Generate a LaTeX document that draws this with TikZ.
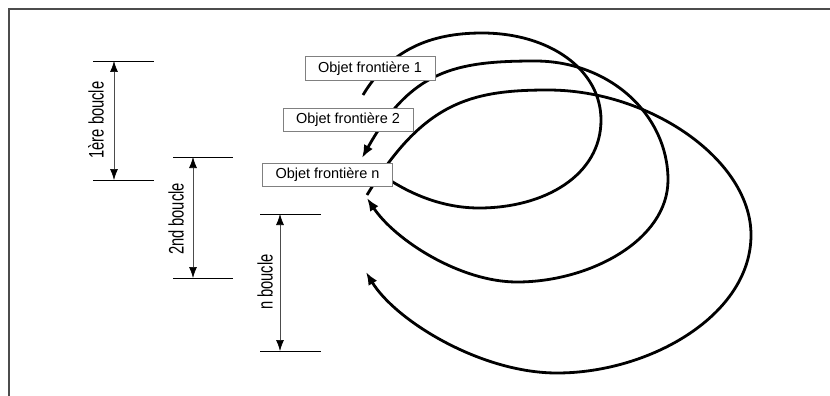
\documentclass[tikz,border=0pt]{standalone}
\usepackage{fontspec}
\setmainfont{Liberation Sans}
\usetikzlibrary{arrows.meta}
\begin{document}
\begin{tikzpicture}[x=1pt,y=-1pt,
  loopline/.style={line width=2.8pt, line join=round},
  bigtip/.style={-{Latex[length=13pt,width=10pt]}},
  bothtips/.style={{Latex[length=13pt,width=10pt]}-{Latex[length=13pt,width=10pt]}},
  objbox/.style={draw=black!50, line width=0.9pt, fill=white, minimum width=130pt,
    minimum height=23.5pt, inner sep=0pt, font=\fontsize{14.5}{16}\selectfont},
  extline/.style={line width=0.9pt, black},
  dimline/.style={line width=0.7pt, black!70, {Latex[length=11pt,width=8pt,black]}-{Latex[length=11pt,width=8pt,black]}},
  dimlabel/.style={rotate=90, inner sep=0pt, font=\fontsize{21}{23}\selectfont},
  frameline/.style={line width=2pt, black!70}
]
\useasboundingbox (0,0) rectangle (830,396);

% frame
\coordinate (fTL) at (9,9);
\coordinate (fTR) at (830,9);
\coordinate (fBL) at (9,396);
\draw[frameline] (fTR) -- (fTL) -- (fBL);

% loop 1
\coordinate (a0) at (363,95);
\coordinate (a1) at (482,33);
\coordinate (a2) at (601,120);
\coordinate (a3) at (479,208);
\coordinate (a4) at (378,172);
\draw[loopline] (a0) .. controls (390,50) and (430,33) .. (a1)
  .. controls (550,33) and (601,70) .. (a2)
  .. controls (601,175) and (545,208) .. (a3)
  .. controls (440,208) and (405,192) .. (a4);

% loop 2
\coordinate (b0) at (362,158);
\coordinate (b1) at (535,61);
\coordinate (b2) at (668,180);
\coordinate (b3) at (517,282);
\coordinate (b4) at (367,198);
\draw[loopline, bothtips] (b0) .. controls (411,70.5) and (455,61) .. (b1)
  .. controls (610,61) and (668,115) .. (b2)
  .. controls (668,240) and (590,282) .. (b3)
  .. controls (460,282) and (395,240) .. (b4);

% loop n
\coordinate (c0) at (367,195);
\coordinate (c1) at (548,90);
\coordinate (c2) at (751,235);
\coordinate (c3) at (557,373);
\coordinate (c4) at (366,272);
\draw[loopline, bigtip] (c0) .. controls (423,102.6) and (470,90) .. (c1)
  .. controls (650,90) and (751,160) .. (c2)
  .. controls (751,315) and (650,373) .. (c3)
  .. controls (480,373) and (395,320) .. (c4);

% boxes
\node[objbox] (o1) at (370,68.5) {Objet frontière 1};
\node[objbox] (o2) at (348,120) {Objet frontière 2};
\node[objbox] (on) at (327.5,175) {Objet frontière n};

% dimension 1
\coordinate (a1l) at (93,61);  \coordinate (a1r) at (154,61);
\coordinate (b1l) at (93,180); \coordinate (b1r) at (154,180);
\coordinate (d1t) at (114,61); \coordinate (d1b) at (114,180);
\draw[extline] (a1l) -- (a1r);
\draw[extline] (b1l) -- (b1r);
\draw[dimline] (d1t) -- (d1b);
\node[dimlabel] (l1) at (96,120) {\scalebox{0.7}[1]{1ère boucle}};

% dimension 2
\coordinate (a2l) at (173,157);  \coordinate (a2r) at (233,157);
\coordinate (b2l) at (173,278); \coordinate (b2r) at (233,278);
\coordinate (d2t) at (193,157); \coordinate (d2b) at (193,278);
\draw[extline] (a2l) -- (a2r);
\draw[extline] (b2l) -- (b2r);
\draw[dimline] (d2t) -- (d2b);
\node[dimlabel] (l2) at (176,219) {\scalebox{0.7}[1]{2nd boucle}};

% dimension n
\coordinate (a3l) at (260,214);  \coordinate (a3r) at (321,214);
\coordinate (b3l) at (260,351); \coordinate (b3r) at (321,351);
\coordinate (d3t) at (280,214); \coordinate (d3b) at (280,351);
\draw[extline] (a3l) -- (a3r);
\draw[extline] (b3l) -- (b3r);
\draw[dimline] (d3t) -- (d3b);
\node[dimlabel] (l3) at (265,282) {\scalebox{0.7}[1]{n boucle}};
\end{tikzpicture}
\end{document}
